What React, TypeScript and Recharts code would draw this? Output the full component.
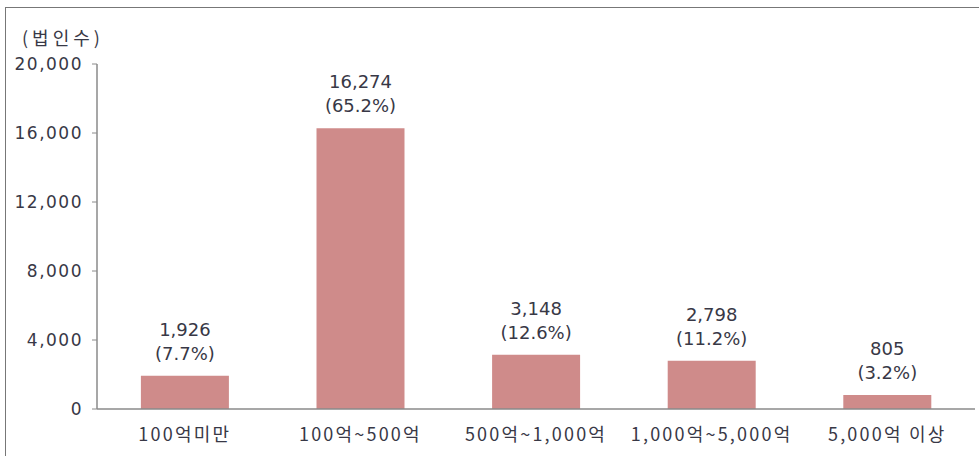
import { BarChart, Bar, XAxis, YAxis, LabelList } from "recharts";

const categories = ["100억미만", "100억~500억", "500억~1,000억", "1,000억~5,000억", "5,000억 이상"];
const corpCounts = [1926, 16274, 3148, 2798, 805];
const shares = [7.7, 65.2, 12.6, 11.2, 3.2];
const yTicks = [0, 4000, 8000, 12000, 16000, 20000];
const bandEdges = [0, 1, 2, 3, 4, 5];

const data = categories.map((name, i) => ({ name, count: corpCounts[i], share: shares[i] }));

const fmt = (v: number) => v.toLocaleString("en-US");
const textColor = "#383846";
const axisColor = "#8a8a8a";

function BarLabel(props: any) {
  const x = Number(props.x);
  const y = Number(props.y);
  const w = Number(props.width);
  const i = props.index;
  const cx = x + w / 2;
  const style = { fontFamily: "DejaVu Sans", fontSize: 18, fill: textColor };
  return (
    <g>
      <text x={cx} y={y - 40} textAnchor="middle" {...style}>
        {fmt(corpCounts[i])}
      </text>
      <text x={cx} y={y - 16} textAnchor="middle" {...style}>
        ({shares[i].toFixed(1)}%)
      </text>
    </g>
  );
}

export default function App() {
  return (
    <div style={{ position: "absolute", left: 0, top: 0, width: 979, height: 456, background: "#fff" }}>
      <div
        style={{
          position: "absolute",
          left: 5,
          top: 7,
          right: 0,
          bottom: 0,
          borderTop: "1px solid #777",
          borderLeft: "1px solid #777",
        }}
      />
      <div
        style={{
          position: "absolute",
          left: 22,
          top: 24,
          fontFamily: "Noto Sans CJK KR",
          fontSize: 18,
          lineHeight: "26px",
          letterSpacing: 4,
          color: textColor,
        }}
      >
        (법인수)
      </div>
      <BarChart
        width={979}
        height={456}
        data={data}
        margin={{ top: 64, right: 4, bottom: 17, left: 0 }}
        barCategoryGap="25%"
        style={{ position: "absolute", left: 0, top: 0 }}
      >
        <XAxis
          xAxisId="edges"
          type="number"
          domain={[0, 5]}
          ticks={bandEdges}
          allowDataOverflow
          height={0}
          tick={false}
          axisLine={false}
          tickSize={5}
          tickLine={{ stroke: axisColor }}
        />
        <XAxis
          xAxisId="cat"
          dataKey="name"
          height={30}
          tickSize={0}
          tickMargin={19}
          tickLine={false}
          axisLine={{ stroke: axisColor, strokeWidth: 1.5 }}
          tick={{ fill: textColor, fontSize: 18, fontFamily: "Noto Sans CJK KR", letterSpacing: 2.2 }}
        />
        <YAxis
          width={97}
          domain={[0, 20000]}
          ticks={yTicks}
          tickSize={5}
          tickMargin={9}
          tickFormatter={fmt}
          axisLine={{ stroke: axisColor, strokeWidth: 1.5 }}
          tickLine={{ stroke: axisColor }}
          tick={{ fill: textColor, fontSize: 17, fontFamily: "DejaVu Sans", letterSpacing: 1.5 }}
        />
        <Bar xAxisId="cat" dataKey="count" fill="#cf8b8a" isAnimationActive={false}>
          <LabelList dataKey="count" content={BarLabel} />
        </Bar>
      </BarChart>
    </div>
  );
}
